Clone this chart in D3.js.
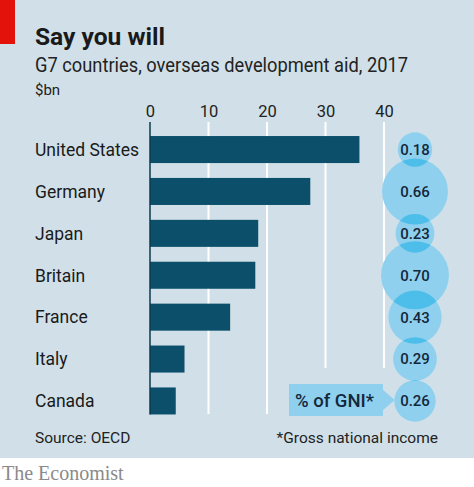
<!DOCTYPE html>
<html><head><meta charset="utf-8">
<script src="https://cdn.jsdelivr.net/npm/d3@7"></script>
<style>body{margin:0;background:#fff}svg{display:block}</style>
</head><body>
<script>
const countries = ["United States","Germany","Japan","Britain","France","Italy","Canada"];
const aidBn = [35.8, 27.4, 18.5, 18.0, 13.7, 5.9, 4.4];
const gniPct = [0.18, 0.66, 0.23, 0.70, 0.43, 0.29, 0.26];
const gniLabels = ["0.18","0.66","0.23","0.70","0.43","0.29","0.26"];
const xTicks = [0, 10, 20, 30, 40];

const W = 474, H = 487;
const SANS = "Roboto,'Noto Sans',sans-serif";
const svg = d3.select("body").append("svg").attr("width", W).attr("height", H)
  .attr("font-family", SANS);

svg.append("rect").attr("x",0).attr("y",0).attr("width",W).attr("height",458).attr("fill","#d1e0e8");
svg.append("rect").attr("x",0).attr("y",0).attr("width",15).attr("height",44).attr("fill","#e3120b");

svg.append("text").attr("x",35).attr("y",45).attr("font-size",24).attr("font-weight",700).attr("fill","#1a1a1a").attr("textLength",130).attr("lengthAdjust","spacingAndGlyphs").text("Say you will");
svg.append("text").attr("x",35).attr("y",72).attr("font-size",19.5).attr("fill","#222").attr("textLength",373).attr("lengthAdjust","spacingAndGlyphs").text("G7 countries, overseas development aid, 2017");
svg.append("text").attr("x",35).attr("y",95).attr("font-size",15).attr("fill","#222").text("$bn");

const x = d3.scaleLinear().domain([0,40]).range([150,384]);
const y = d3.scaleBand().domain(countries).range([128.6,421.9]).paddingInner(0.355).paddingOuter(0.1775);

// gridlines
svg.append("g").selectAll("line").data(xTicks.filter(d=>d>0)).join("line")
  .attr("x1",d=>x(d)).attr("x2",d=>x(d)).attr("y1",122).attr("y2",d=>d>=30?368:414)
  .attr("stroke","#fff").attr("stroke-width",2);

// tick labels via axis
const ax = svg.append("g").attr("transform","translate(0,117)").call(d3.axisTop(x).tickValues(xTicks).tickSize(0).tickPadding(0));
ax.select(".domain").remove();
ax.selectAll("text").attr("font-size",16.5).attr("fill","#222").style("font-family",SANS);

// bars
svg.append("g").selectAll("rect").data(countries).join("rect")
  .attr("x",x(0)).attr("y",d=>y(d)).attr("width",(d,i)=>x(aidBn[i])-x(0)).attr("height",y.bandwidth())
  .attr("fill","#0b4f6b");
svg.append("line").attr("x1",x(0)).attr("x2",x(0)).attr("y1",122).attr("y2",414.5).attr("stroke","#0b3a50").attr("stroke-width",1.5);

// country labels
svg.append("g").selectAll("text").data(countries).join("text")
  .attr("x",35).attr("y",d=>y(d)+y.bandwidth()/2).attr("dy","0.36em")
  .attr("font-size",17.5).attr("fill","#1a1a1a").text(d=>d);

// bubbles
const r = d3.scaleSqrt().domain([0,1]).range([0,40.6]);
const cx = 415;
const defs = svg.append("defs");
countries.forEach((c,i)=>{
  defs.append("clipPath").attr("id","clip"+i).append("circle")
    .attr("cx",cx).attr("cy",y(c)+y.bandwidth()/2).attr("r",r(gniPct[i]));
});
svg.append("g").selectAll("circle").data(countries).join("circle")
  .attr("cx",cx).attr("cy",d=>y(d)+y.bandwidth()/2).attr("r",(d,i)=>r(gniPct[i]))
  .attr("fill","#8fd0ef");
svg.append("g").selectAll("circle").data(countries.slice(1)).join("circle")
  .attr("clip-path",(d,i)=>"url(#clip"+i+")")
  .attr("cx",cx).attr("cy",d=>y(d)+y.bandwidth()/2).attr("r",(d,i)=>r(gniPct[i+1]))
  .attr("fill","#4dbde9");
svg.append("g").selectAll("text").data(countries).join("text")
  .attr("x",cx).attr("y",d=>y(d)+y.bandwidth()/2).attr("dy","0.36em").attr("text-anchor","middle")
  .attr("font-size",15).attr("font-weight",500).attr("fill","#14283a").text((d,i)=>gniLabels[i]);

// key box
const ky = y("Canada")+y.bandwidth()/2;
svg.append("rect").attr("x",289).attr("y",ky-17).attr("width",94).attr("height",32).attr("fill","#8fd0ef");
svg.append("path").attr("d",`M382,${ky-12}L${cx-r(gniPct[6])+0.5},${ky-1}L382,${ky+10}Z`).attr("fill","#8fd0ef");
svg.append("text").attr("x",295).attr("y",ky).attr("dy","0.36em").attr("font-size",17.5).attr("font-weight",500).attr("fill","#14283a").attr("textLength",79).attr("lengthAdjust","spacingAndGlyphs").text("% of GNI*");

svg.append("text").attr("x",35).attr("y",443).attr("font-size",15.5).attr("fill","#222").text("Source: OECD");
svg.append("text").attr("x",438).attr("y",443).attr("text-anchor","end").attr("font-size",15.5).attr("fill","#222").text("*Gross national income");

svg.append("text").attr("x",2).attr("y",480).attr("font-size",20).attr("fill","#8a8a8a")
  .style("font-family","'Liberation Serif','DejaVu Serif',serif").text("The Economist");
</script>
</body></html>
